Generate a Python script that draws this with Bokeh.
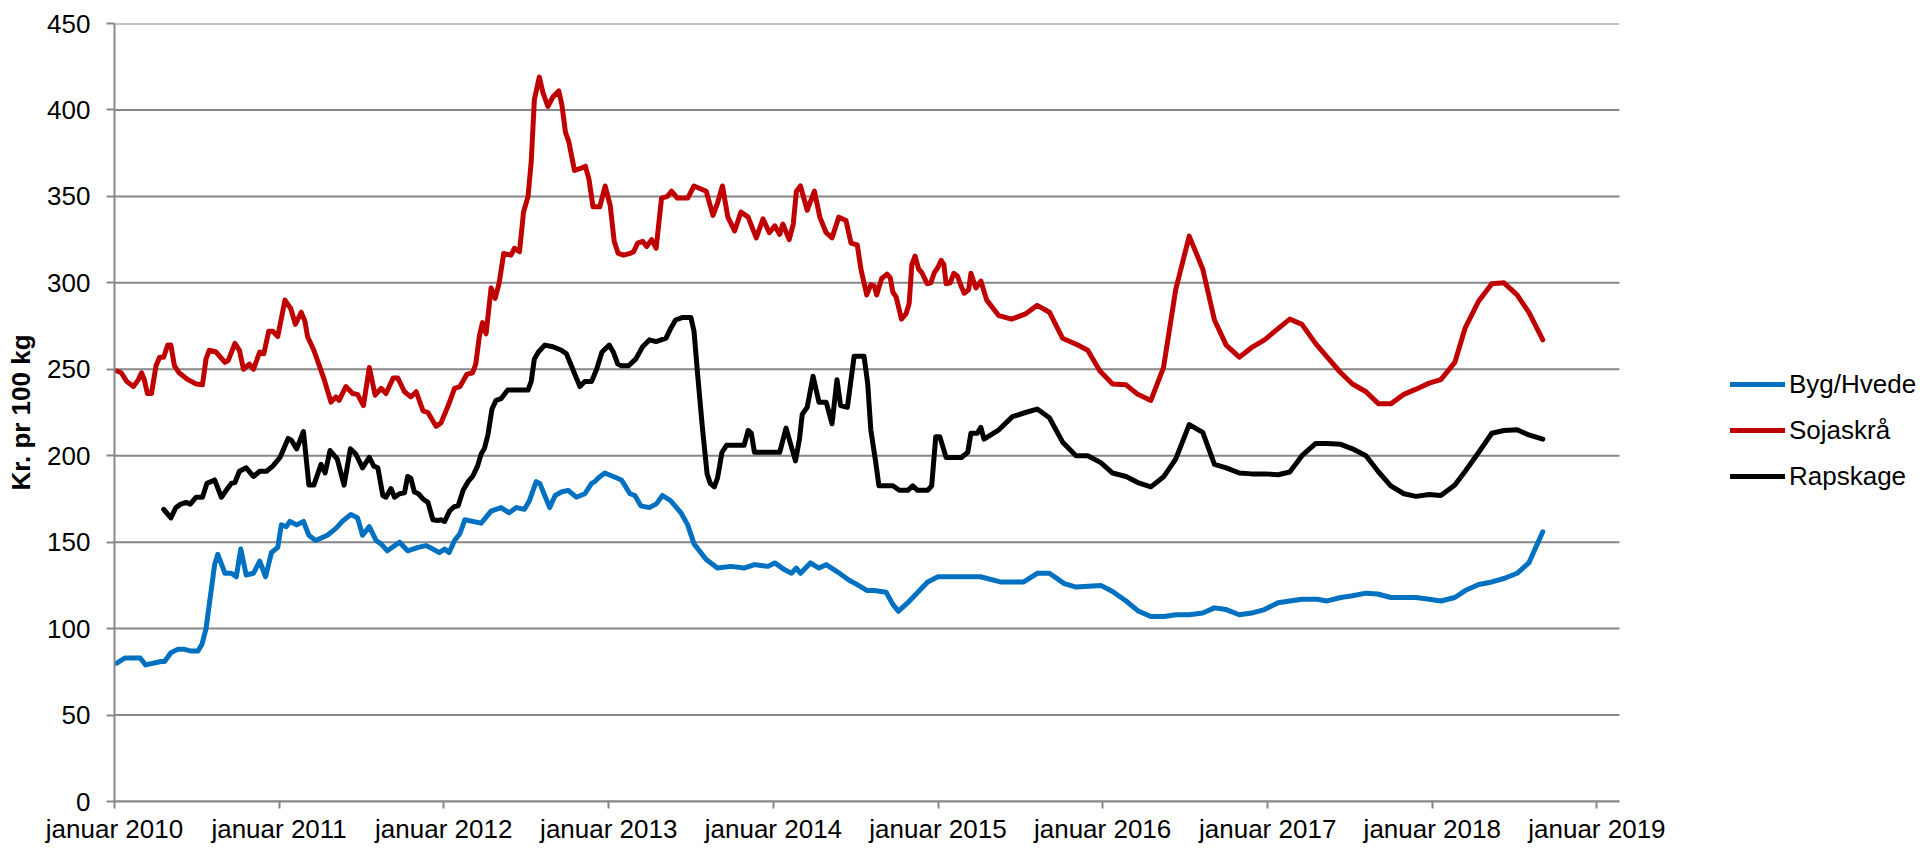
import pandas as pd
from bokeh.plotting import figure
from bokeh.models import (Range1d, FixedTicker, DatetimeTickFormatter, Legend,
                          LegendItem, ColumnDataSource)
from bokeh.embed import file_html
from bokeh.resources import INLINE

# ---------------- data ----------------
byg_dates = [
    "2010-01-06", "2010-01-24", "2010-02-27", "2010-03-11", "2010-04-14", "2010-04-22",
    "2010-05-06", "2010-05-21", "2010-06-05", "2010-06-20", "2010-07-05", "2010-07-14",
    "2010-07-23", "2010-08-11", "2010-08-18", "2010-09-03", "2010-09-17", "2010-09-28",
    "2010-10-08", "2010-10-20", "2010-11-05", "2010-11-19", "2010-12-02", "2010-12-15",
    "2010-12-29", "2011-01-06", "2011-01-17", "2011-01-25", "2011-02-09", "2011-02-24",
    "2011-03-08", "2011-03-23", "2011-04-18", "2011-05-07", "2011-05-21", "2011-06-09",
    "2011-06-17", "2011-06-24", "2011-07-05", "2011-07-20", "2011-08-04", "2011-08-15",
    "2011-08-29", "2011-09-25", "2011-10-13", "2011-11-05", "2011-11-23", "2011-12-08",
    "2011-12-22", "2012-01-03", "2012-01-13", "2012-01-25", "2012-02-06", "2012-02-17",
    "2012-03-24", "2012-04-15", "2012-05-07", "2012-05-25", "2012-06-10", "2012-06-28",
    "2012-07-09", "2012-07-24", "2012-08-01", "2012-08-12", "2012-08-23", "2012-09-04",
    "2012-09-18", "2012-10-03", "2012-10-21", "2012-11-09", "2012-11-24", "2012-12-01",
    "2012-12-08", "2012-12-23", "2013-01-11", "2013-01-29", "2013-02-17", "2013-02-28",
    "2013-03-13", "2013-04-01", "2013-04-16", "2013-04-30", "2013-05-18", "2013-06-10",
    "2013-06-25", "2013-07-09", "2013-08-05", "2013-08-30", "2013-09-29", "2013-10-28",
    "2013-11-20", "2013-12-20", "2014-01-04", "2014-01-26", "2014-02-10", "2014-02-21",
    "2014-03-02", "2014-03-24", "2014-04-12", "2014-04-28", "2014-05-22", "2014-06-18",
    "2014-07-02", "2014-07-28", "2014-08-13", "2014-09-08", "2014-09-23", "2014-10-05",
    "2014-10-26", "2014-11-21", "2014-12-09", "2015-01-01", "2015-02-22", "2015-04-05",
    "2015-05-19", "2015-07-10", "2015-08-09", "2015-09-05", "2015-10-08", "2015-11-03",
    "2015-12-28", "2016-01-23", "2016-02-22", "2016-03-21", "2016-04-17", "2016-05-16",
    "2016-06-11", "2016-07-11", "2016-08-10", "2016-09-05", "2016-10-01", "2016-10-30",
    "2016-11-26", "2016-12-25", "2017-01-24", "2017-02-19", "2017-03-18", "2017-04-21",
    "2017-05-13", "2017-06-12", "2017-07-08", "2017-08-07", "2017-09-02", "2017-10-01",
    "2017-10-30", "2017-11-26", "2017-12-25", "2018-01-20", "2018-02-20", "2018-03-15",
    "2018-04-14", "2018-05-13", "2018-06-09", "2018-07-08", "2018-08-03", "2018-09-03",
]
byg_values = [
    80, 83, 83, 79, 81, 81,
    86, 88, 88, 87, 87, 91,
    100, 137, 143, 132, 132, 130,
    146, 131, 132, 139, 130, 144,
    147, 160, 159, 162, 160, 162,
    154, 151, 154, 158, 162, 166,
    165, 164, 154, 159, 151, 149,
    145, 150, 145, 147, 148, 146,
    144, 146, 144, 151, 155, 163,
    161, 168, 170, 167, 170, 169,
    174, 185, 184, 177, 170, 177,
    179, 180, 176, 178, 184, 185,
    187, 190, 188, 186, 178, 177,
    171, 170, 172, 177, 174, 167,
    160, 149, 140, 135, 136, 135,
    137, 136, 138, 134, 132, 135,
    132, 138, 135, 137, 133, 128,
    126, 122, 122, 121, 114, 110,
    115, 122, 127, 130, 130, 130,
    127, 127, 132, 132, 126, 124,
    125, 121.5, 116, 110, 107, 107,
    108, 108, 109, 112, 111, 108,
    109, 111, 115, 116, 117, 117,
    116, 118, 119, 120.5, 120, 118,
    118, 118, 117, 116, 118, 122,
    125.5, 127, 129, 132, 138, 156,
]

soja_dates = [
    "2010-01-06", "2010-01-16", "2010-01-28", "2010-02-12", "2010-02-23", "2010-03-02",
    "2010-03-08", "2010-03-15", "2010-03-24", "2010-04-03", "2010-04-11", "2010-04-20",
    "2010-04-29", "2010-05-06", "2010-05-14", "2010-05-24", "2010-06-13", "2010-07-01",
    "2010-07-15", "2010-07-23", "2010-07-30", "2010-08-14", "2010-09-03", "2010-09-10",
    "2010-09-25", "2010-10-05", "2010-10-14", "2010-10-27", "2010-11-05", "2010-11-19",
    "2010-11-28", "2010-12-09", "2010-12-18", "2010-12-29", "2011-01-14", "2011-01-27",
    "2011-02-06", "2011-02-19", "2011-02-27", "2011-03-05", "2011-03-19", "2011-03-30",
    "2011-04-11", "2011-04-26", "2011-05-07", "2011-05-14", "2011-05-29", "2011-06-13",
    "2011-06-24", "2011-07-07", "2011-07-20", "2011-08-02", "2011-08-15", "2011-08-26",
    "2011-09-11", "2011-09-21", "2011-10-06", "2011-10-20", "2011-11-01", "2011-11-16",
    "2011-11-27", "2011-12-15", "2011-12-26", "2012-01-11", "2012-01-25", "2012-02-06",
    "2012-02-21", "2012-03-05", "2012-03-12", "2012-03-20", "2012-03-27", "2012-04-04",
    "2012-04-15", "2012-04-24", "2012-05-03", "2012-05-13", "2012-05-29", "2012-06-06",
    "2012-06-17", "2012-06-26", "2012-07-06", "2012-07-13", "2012-07-20", "2012-07-31",
    "2012-08-08", "2012-08-19", "2012-08-30", "2012-09-12", "2012-09-19", "2012-09-27",
    "2012-10-04", "2012-10-17", "2012-10-29", "2012-11-10", "2012-11-18", "2012-11-27",
    "2012-12-12", "2012-12-24", "2013-01-04", "2013-01-13", "2013-01-22", "2013-02-03",
    "2013-02-17", "2013-02-25", "2013-03-06", "2013-03-17", "2013-03-26", "2013-04-06",
    "2013-04-16", "2013-04-28", "2013-05-11", "2013-05-20", "2013-06-02", "2013-06-25",
    "2013-07-09", "2013-08-05", "2013-08-20", "2013-08-30", "2013-09-10", "2013-09-22",
    "2013-10-07", "2013-10-21", "2013-11-06", "2013-11-24", "2013-12-09", "2013-12-23",
    "2014-01-04", "2014-01-15", "2014-01-22", "2014-02-05", "2014-02-14", "2014-02-21",
    "2014-03-02", "2014-03-17", "2014-04-02", "2014-04-14", "2014-04-28", "2014-05-11",
    "2014-05-26", "2014-06-11", "2014-06-22", "2014-07-06", "2014-07-14", "2014-07-27",
    "2014-08-05", "2014-08-13", "2014-08-18", "2014-08-29", "2014-09-10", "2014-09-17",
    "2014-09-23", "2014-09-30", "2014-10-12", "2014-10-22", "2014-10-29", "2014-11-04",
    "2014-11-11", "2014-11-19", "2014-11-26", "2014-12-08", "2014-12-16", "2014-12-24",
    "2015-01-01", "2015-01-08", "2015-01-14", "2015-01-19", "2015-01-28", "2015-02-05",
    "2015-02-13", "2015-02-23", "2015-02-28", "2015-03-10", "2015-03-15", "2015-03-26",
    "2015-04-06", "2015-04-19", "2015-05-16", "2015-06-13", "2015-07-14", "2015-08-09",
    "2015-09-05", "2015-10-04", "2015-11-07", "2015-11-29", "2015-12-26", "2016-01-23",
    "2016-02-22", "2016-03-19", "2016-04-17", "2016-05-15", "2016-06-11", "2016-07-11",
    "2016-08-10", "2016-09-05", "2016-10-01", "2016-10-30", "2016-11-26", "2016-12-25",
    "2017-01-24", "2017-02-19", "2017-03-18", "2017-04-17", "2017-05-13", "2017-06-12",
    "2017-07-08", "2017-08-07", "2017-09-04", "2017-10-01", "2017-10-30", "2017-11-26",
    "2017-12-25", "2018-01-20", "2018-02-20", "2018-03-15", "2018-04-14", "2018-05-13",
    "2018-06-09", "2018-07-08", "2018-08-03", "2018-09-03",
]
soja_values = [
    249, 248, 243, 240, 244, 248,
    244, 236, 236, 252, 257, 257,
    264, 264, 252, 248, 244, 241.5,
    241, 256, 261, 260, 254, 255,
    265, 261, 250, 253, 250, 260,
    259, 272, 272, 269, 290, 285,
    276, 283, 278, 269, 261, 253,
    244, 231, 234, 232, 240, 236,
    235.5, 229, 251, 235, 239, 236,
    245, 245, 237, 234, 237, 226,
    225, 217, 219, 229, 239, 240,
    247, 248, 253, 269, 277, 270.5,
    297, 291, 300, 317, 316, 320,
    318, 341, 350, 370, 406, 419,
    410, 402, 407.5, 411, 403, 387,
    382, 365, 366, 367.5, 360, 344,
    344, 356, 345, 324, 317, 316,
    317, 318, 323, 324, 321, 325,
    320, 349, 350, 353, 349, 349,
    356, 353, 339, 346, 356, 338,
    330, 341, 338, 326, 337, 329,
    333, 328, 334, 325, 334, 353,
    356, 342, 353, 338, 329, 326,
    338, 336, 323, 322, 308, 293,
    299, 298, 293, 302.5, 305, 303,
    294.5, 292, 279, 282, 288, 310.5,
    315.5, 308, 306, 299.5, 300, 306,
    309, 313, 310.5, 299.5, 300, 305.5,
    304, 297, 294, 296, 305.5, 297,
    301, 290, 281, 279, 282, 287,
    283, 268, 264, 261, 249, 241.5,
    241, 235.5, 232, 251, 296, 327,
    308, 278.5, 264, 257, 262.5, 267,
    273.5, 279, 276, 265, 257, 248,
    241.5, 237, 230, 230, 235.5, 238.5,
    242, 244, 254, 274, 289.5, 299.5,
    300, 293, 283, 267,
]

raps_dates = [
    "2010-04-20", "2010-05-06", "2010-05-17", "2010-05-28", "2010-06-09", "2010-06-18",
    "2010-07-01", "2010-07-15", "2010-07-25", "2010-08-11", "2010-08-26", "2010-09-06",
    "2010-09-17", "2010-09-25", "2010-10-05", "2010-10-20", "2010-11-05", "2010-11-19",
    "2010-12-04", "2010-12-18", "2011-01-03", "2011-01-21", "2011-01-28", "2011-02-09",
    "2011-02-24", "2011-03-08", "2011-03-19", "2011-04-04", "2011-04-13", "2011-04-24",
    "2011-05-10", "2011-05-25", "2011-06-08", "2011-06-20", "2011-07-05", "2011-07-20",
    "2011-07-30", "2011-08-08", "2011-08-19", "2011-08-26", "2011-09-06", "2011-09-14",
    "2011-09-25", "2011-10-06", "2011-10-13", "2011-10-20", "2011-10-28", "2011-11-06",
    "2011-11-16", "2011-11-27", "2011-12-08", "2011-12-19", "2011-12-26", "2012-01-03",
    "2012-01-14", "2012-01-24", "2012-02-02", "2012-02-13", "2012-02-24", "2012-03-05",
    "2012-03-16", "2012-03-24", "2012-03-31", "2012-04-08", "2012-04-17", "2012-04-26",
    "2012-05-07", "2012-05-22", "2012-07-06", "2012-07-13", "2012-07-20", "2012-07-29",
    "2012-08-12", "2012-08-30", "2012-09-18", "2012-09-29", "2012-10-10", "2012-10-21",
    "2012-10-29", "2012-11-09", "2012-11-24", "2012-12-05", "2012-12-17", "2013-01-02",
    "2013-01-11", "2013-01-21", "2013-01-29", "2013-02-14", "2013-03-02", "2013-03-17",
    "2013-04-01", "2013-04-16", "2013-05-08", "2013-05-18", "2013-05-29", "2013-06-14",
    "2013-07-02", "2013-07-09", "2013-07-17", "2013-07-28", "2013-08-07", "2013-08-14",
    "2013-08-23", "2013-08-30", "2013-09-09", "2013-09-19", "2013-10-28", "2013-11-06",
    "2013-11-13", "2013-11-20", "2014-01-15", "2014-01-29", "2014-02-09", "2014-02-19",
    "2014-02-28", "2014-03-06", "2014-03-17", "2014-03-30", "2014-04-12", "2014-04-28",
    "2014-05-11", "2014-05-22", "2014-05-30", "2014-06-14", "2014-06-29", "2014-07-21",
    "2014-07-29", "2014-08-05", "2014-08-16", "2014-08-23", "2014-09-23", "2014-10-07",
    "2014-10-26", "2014-11-06", "2014-11-17", "2014-12-09", "2014-12-18", "2014-12-27",
    "2015-01-05", "2015-01-19", "2015-02-22", "2015-03-08", "2015-03-15", "2015-03-29",
    "2015-04-06", "2015-04-13", "2015-05-16", "2015-06-15", "2015-07-14", "2015-08-09",
    "2015-09-05", "2015-10-04", "2015-11-03", "2015-11-29", "2015-12-28", "2016-01-23",
    "2016-02-22", "2016-03-19", "2016-04-17", "2016-05-16", "2016-06-11", "2016-07-11",
    "2016-08-10", "2016-09-05", "2016-10-01", "2016-10-30", "2016-11-26", "2016-12-25",
    "2017-01-24", "2017-02-19", "2017-03-18", "2017-04-17", "2017-05-13", "2017-06-12",
    "2017-07-08", "2017-08-07", "2017-09-04", "2017-10-01", "2017-10-30", "2017-11-26",
    "2017-12-25", "2018-01-20", "2018-02-20", "2018-03-15", "2018-04-14", "2018-05-13",
    "2018-06-09", "2018-07-08", "2018-08-03", "2018-09-03",
]
raps_values = [
    169, 164, 170, 172, 173, 172,
    176, 176, 184, 186, 176, 180,
    184, 184.5, 191, 193, 188, 191,
    191, 194, 199, 210, 209, 204,
    214, 183, 183, 195, 190, 203,
    198, 183, 204, 201, 193, 199,
    194, 193, 177, 176, 181, 176,
    178, 178.5, 188, 187, 179, 178,
    175, 173, 163, 162.5, 163, 162,
    168, 170.5, 171, 180, 185, 188,
    194, 201, 204, 212, 227, 232,
    233, 238, 238, 243, 256, 260,
    264, 263, 261, 259, 252, 245,
    240, 243, 243, 250, 260, 264,
    260, 253, 252, 252, 256, 263,
    267, 266, 268, 273.5, 278.5, 280,
    280, 272, 247, 215, 189.5, 184,
    182, 187, 202, 206, 206, 214.6,
    213, 202, 202, 216, 206, 197,
    210, 224, 228, 246, 231, 231,
    218.5, 244, 229, 228, 257.5, 257.5,
    242, 215, 196, 182.6, 182.6, 180,
    180, 182.6, 180, 180, 182.6, 211,
    211, 199, 199, 202, 213, 213,
    216.4, 209.6, 215, 222.6, 225, 227,
    222, 208, 200, 200, 196, 190,
    188, 184.5, 182, 188, 198, 218,
    213.5, 195, 193, 190, 189.5, 189.5,
    189, 190.6, 200, 207, 207, 206.6,
    204, 200, 190.6, 182.6, 178, 176.5,
    177.6, 177, 183, 191, 202, 213,
    214.6, 215, 212, 209.6,
]

series_names = ["Byg/Hvede", "Sojaskrå", "Rapskage"]
series_colors = ["#0070C0", "#C00000", "#000000"]
year_ticks = ["2010-01-01", "2011-01-01", "2012-01-01", "2013-01-01", "2014-01-01",
              "2015-01-01", "2016-01-01", "2017-01-01", "2018-01-01", "2019-01-01"]
y_ticks = [0, 50, 100, 150, 200, 250, 300, 350, 400, 450]
y_title = "Kr. pr 100 kg"
axis_start = "2010-01-01"
axis_end = "2019-02-20"

# ---------------- layout constants ----------------
FONT = "Liberation Sans"
GRID = "#878787"
W, H = 1916, 849
LEFT, TOP, BOTTOM = 114, 23, 48
DAY_PX = 0.45099         # horizontal scale of the date axis (px per day)
LEGEND_X = 1616          # legend offset from frame left (px)
frame_w = W - LEFT       # frame extends to the right edge so the legend is not clipped

t0 = pd.Timestamp(axis_start)
t1 = pd.Timestamp(axis_end)
x_end = t0 + pd.Timedelta(days=frame_w / DAY_PX)

p = figure(
    width=W, height=H,
    x_axis_type="datetime",
    x_range=Range1d(t0, x_end),
    y_range=Range1d(0, 450),
    output_backend="svg", toolbar_location=None,
    min_border_left=LEFT, min_border_right=0, min_border_top=TOP,
    min_border_bottom=BOTTOM,
)
p.outline_line_color = None
p.background_fill_color = "white"
p.border_fill_color = "white"

# horizontal gridlines, limited to the dated axis span
p.xgrid.visible = False
p.ygrid.visible = False
p.segment(x0=[t0] * len(y_ticks), x1=[t1] * len(y_ticks), y0=y_ticks, y1=y_ticks,
          line_color=GRID, line_width=2)

renderers = []
for dates, vals, color in [(byg_dates, byg_values, series_colors[0]),
                           (soja_dates, soja_values, series_colors[1]),
                           (raps_dates, raps_values, series_colors[2])]:
    src = ColumnDataSource(dict(x=pd.to_datetime(dates), y=vals))
    r = p.line("x", "y", source=src, line_color=color, line_width=5,
               line_join="round", line_cap="round")
    renderers.append(r)

# axes
tick_ms = [pd.Timestamp(t).value // 10**6 for t in year_ticks]
p.xaxis.ticker = FixedTicker(ticks=tick_ms)
p.xaxis.bounds = (t0.value // 10**6, t1.value // 10**6)
fmt = "januar %Y"
p.xaxis.formatter = DatetimeTickFormatter(
    years=fmt, months=fmt, days=fmt, hours=fmt, hourmin=fmt, minutes=fmt,
    minsec=fmt, seconds=fmt, milliseconds=fmt, microseconds=fmt)
p.yaxis.ticker = FixedTicker(ticks=y_ticks)

for ax in (p.xaxis[0], p.yaxis[0]):
    ax.axis_line_color = GRID
    ax.axis_line_width = 2
    ax.major_tick_line_color = GRID
    ax.major_tick_line_width = 2
    ax.major_tick_in = 0
    ax.minor_tick_line_color = None
    ax.major_label_text_font = FONT
    ax.major_label_text_font_size = "26px"
    ax.major_label_text_color = "black"

p.xaxis.major_tick_out = 7
p.xaxis.major_label_standoff = 5
p.yaxis.major_tick_out = 8
p.yaxis.major_label_standoff = 16

p.yaxis.axis_label = y_title
p.yaxis.axis_label_text_font = FONT
p.yaxis.axis_label_text_font_size = "26px"
p.yaxis.axis_label_text_font_style = "bold"
p.yaxis.axis_label_text_color = "black"
p.yaxis.axis_label_standoff = 8

# legend
items = [LegendItem(label=n, renderers=[r]) for n, r in zip(series_names, renderers)]
legend = Legend(items=items, location=(LEGEND_X, 302))
legend.border_line_color = None
legend.background_fill_alpha = 0
legend.padding = 0
legend.margin = 0
legend.spacing = 0
legend.glyph_width = 55
legend.glyph_height = 46
legend.label_height = 46
legend.label_standoff = 4
legend.label_text_font = FONT
legend.label_text_font_size = "26px"
legend.label_text_color = "black"
p.add_layout(legend)

open("out.html", "w").write(file_html(p, INLINE))
